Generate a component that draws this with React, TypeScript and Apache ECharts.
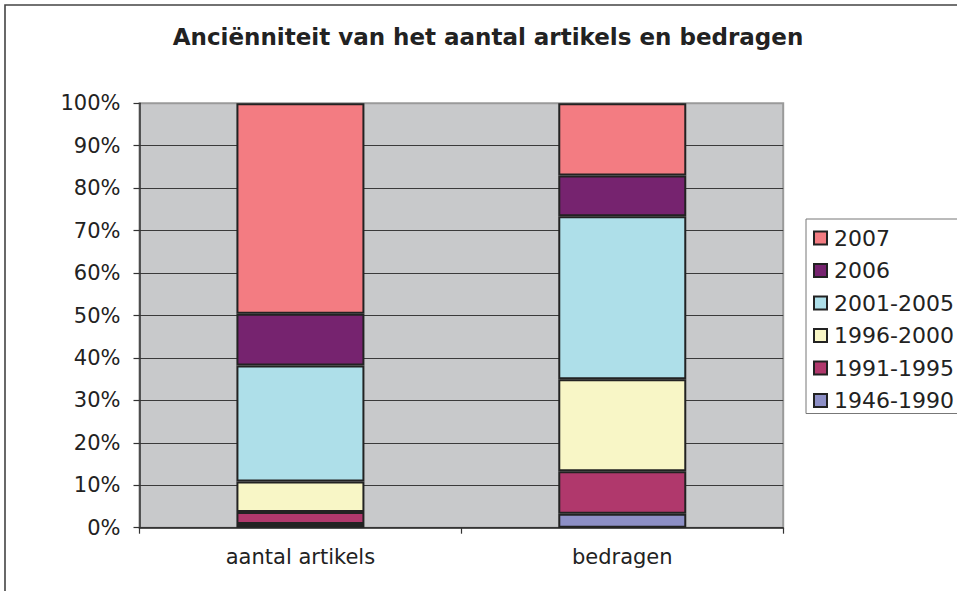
import React, { useEffect, useRef } from "react";
import * as echarts from "echarts";

const categories = ["aantal artikels", "bedragen"];
const seriesNames = ["1946-1990", "1991-1995", "1996-2000", "2001-2005", "2006", "2007"];
const s1946_1990 = [0.9, 3.3];
const s1991_1995 = [2.8, 10.0];
const s1996_2000 = [7.2, 21.7];
const s2001_2005 = [27.3, 38.4];
const s2006 = [12.2, 9.6];
const s2007 = [49.6, 17.0];
const seriesValues = [s1946_1990, s1991_1995, s1996_2000, s2001_2005, s2006, s2007];
const seriesColors = ["#8d8fc6", "#b0386c", "#f8f6c6", "#aedfe9", "#76236f", "#f37c82"];
const titleText = "Anciënniteit van het aantal artikels en bedragen";

const FONT = '"DejaVu Sans", Verdana, sans-serif';

export default function App() {
  const ref = useRef<HTMLDivElement>(null);
  useEffect(() => {
    document.body.style.margin = "0";
    const chart = echarts.init(ref.current!, undefined, { renderer: "svg" });
    const gridColors = Array.from({ length: 11 }, (_, i) => (i === 10 ? "#9a9a9a" : "#3a3a3a"));
    chart.setOption({
      animation: false,
      backgroundColor: "#ffffff",
      textStyle: { fontFamily: FONT },
      graphic: [
        {
          type: "rect",
          shape: { x: 5, y: 5, width: 1100, height: 1100 },
          style: { fill: "none", stroke: "#444", lineWidth: 1.6 },
          silent: true,
          z: 100,
        },
        {
          type: "text",
          x: 488,
          y: 37,
          style: {
            text: titleText,
            fontSize: 23,
            fontWeight: "bold",
            fontFamily: FONT,
            fill: "#222",
            align: "center",
            verticalAlign: "middle",
          },
        },
      ],
      legend: {
        orient: "vertical",
        left: 806,
        top: 219,
        padding: [8, 10, 2, 7],
        itemWidth: 13,
        itemHeight: 13,
        itemGap: 10.5,
        icon: "rect",
        borderColor: "#777",
        borderWidth: 1,
        data: [...seriesNames].reverse(),
        textStyle: { fontSize: 22, color: "#222", fontFamily: FONT, lineHeight: 22, padding: [0, 0, 0, 2] },
      },
      grid: {
        left: 139.5,
        right: 173.8,
        top: 103.3,
        bottom: 63.3,
        show: true,
        backgroundColor: "#c8c9cb",
        borderColor: "#9a9a9a",
        borderWidth: 2,
      },
      xAxis: {
        type: "category",
        data: categories,
        axisLine: { lineStyle: { color: "#333", width: 1.5 } },
        axisTick: { show: true, length: 6, lineStyle: { color: "#333", width: 1.2 } },
        axisLabel: { fontSize: 21, color: "#222", margin: 19, fontFamily: FONT },
      },
      yAxis: {
        type: "value",
        min: 0,
        max: 100,
        interval: 10,
        axisLine: { show: true, lineStyle: { color: "#333", width: 1.5 } },
        axisTick: { show: true, length: 6, lineStyle: { color: "#333", width: 1.2 } },
        axisLabel: { fontSize: 21, color: "#222", margin: 19, formatter: "{value}%", fontFamily: FONT },
        splitLine: { show: true, lineStyle: { color: gridColors, width: 1.2 } },
      },
      series: seriesNames.map((name, i) => ({
        name,
        type: "bar",
        stack: "total",
        barWidth: 128,
        data: seriesValues[i],
        itemStyle: { color: seriesColors[i], borderColor: "#222", borderWidth: 2 },
      })),
    });
    return () => chart.dispose();
  }, []);
  return (
    <div
      ref={ref}
      style={{ position: "absolute", left: 0, top: 0, width: 957, height: 591 }}
    />
  );
}
